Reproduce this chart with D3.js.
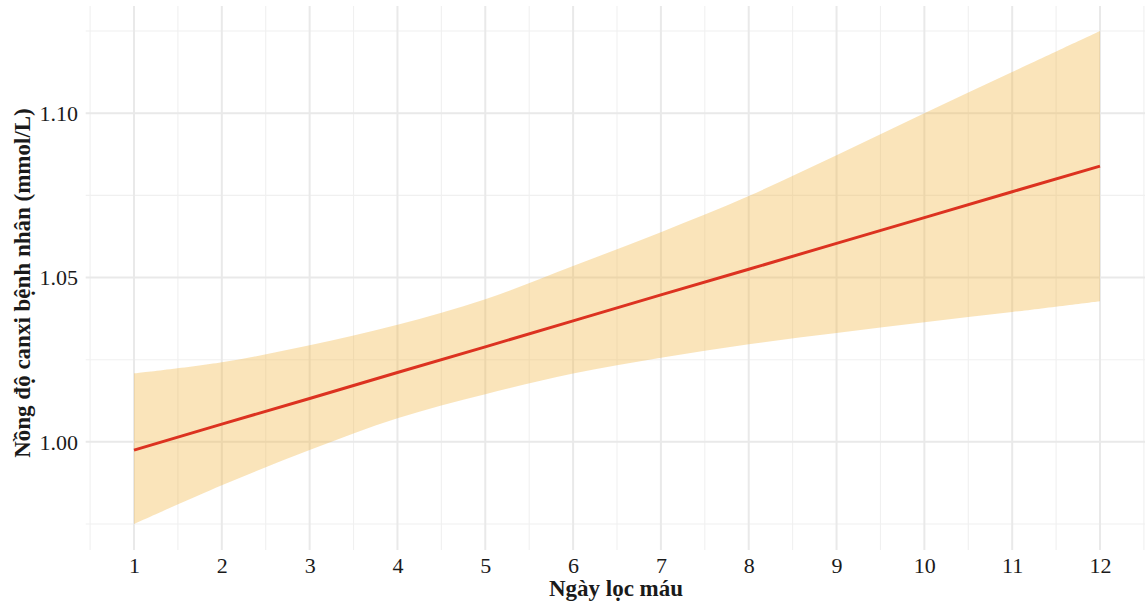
<!DOCTYPE html>
<html>
<head>
<meta charset="utf-8">
<script src="https://cdn.jsdelivr.net/npm/d3@7"></script>
<style>
  html, body { margin: 0; padding: 0; background: #ffffff; }
  svg { display: block; }
  text { font-family: "Liberation Serif", "Times New Roman", serif; fill: #1a1a1a; }
</style>
</head>
<body>
<svg id="chart" width="1145" height="605"></svg>
<script>
// Dialysis day
const days = [1, 2, 3, 4, 5, 6, 7, 8, 9, 10, 11, 12];
// Fitted calcium concentration (mmol/L)
const fitted = [0.9975, 1.0054, 1.0132, 1.0211, 1.0289, 1.0368, 1.0447, 1.0525, 1.0604, 1.0682, 1.0761, 1.0839];
// Confidence band
const upper = [1.0208, 1.0242, 1.0294, 1.0356, 1.0434, 1.0535, 1.0638, 1.0748, 1.0872, 1.1000, 1.1125, 1.1250];
const lower = [0.9750, 0.9868, 0.9975, 1.0072, 1.0145, 1.0208, 1.0256, 1.0297, 1.0331, 1.0364, 1.0395, 1.0428];
// Axis ticks
const xTicks = [1, 2, 3, 4, 5, 6, 7, 8, 9, 10, 11, 12];
const yTicks = [1.00, 1.05, 1.10];
const yMinor = [0.975, 1.025, 1.075, 1.125];
const xMinor = [0.5, 1.5, 2.5, 3.5, 4.5, 5.5, 6.5, 7.5, 8.5, 9.5, 10.5, 11.5, 12.5];

const svg = d3.select("#chart");
const panel = { left: 85.7, right: 1148.3, top: 6, bottom: 550 };

const x = d3.scaleLinear().domain([0.45, 12.55]).range([panel.left, panel.right]);
const y = d3.scaleLinear().domain([0.9671, 1.1326]).range([panel.bottom, panel.top]);

const g = svg.append("g");

// minor grid
g.selectAll("line.xminor").data(xMinor).join("line")
  .attr("x1", d => x(d)).attr("x2", d => x(d))
  .attr("y1", panel.top).attr("y2", panel.bottom)
  .attr("stroke", "#f0f0f0").attr("stroke-width", 1.1);
g.selectAll("line.yminor").data(yMinor).join("line")
  .attr("y1", d => y(d)).attr("y2", d => y(d))
  .attr("x1", panel.left).attr("x2", panel.right)
  .attr("stroke", "#f0f0f0").attr("stroke-width", 1.1);

// major grid
g.selectAll("line.xmajor").data(xTicks).join("line")
  .attr("x1", d => x(d)).attr("x2", d => x(d))
  .attr("y1", panel.top).attr("y2", panel.bottom)
  .attr("stroke", "#e9e9e9").attr("stroke-width", 2);
g.selectAll("line.ymajor").data(yTicks).join("line")
  .attr("y1", d => y(d)).attr("y2", d => y(d))
  .attr("x1", panel.left).attr("x2", panel.right)
  .attr("stroke", "#e9e9e9").attr("stroke-width", 2);

const rows = days.map((d, i) => ({ day: d, fit: fitted[i], lo: lower[i], hi: upper[i] }));

// confidence ribbon
const area = d3.area()
  .x(d => x(d.day))
  .y0(d => y(d.lo))
  .y1(d => y(d.hi))
  .curve(d3.curveCatmullRom.alpha(0.5));
g.append("path").datum(rows)
  .attr("d", area)
  .attr("fill", "#f0b540")
  .attr("fill-opacity", 0.36);

// fitted line
const line = d3.line().x(d => x(d.day)).y(d => y(d.fit));
g.append("path").datum(rows)
  .attr("d", line)
  .attr("fill", "none")
  .attr("stroke", "#dc3220")
  .attr("stroke-width", 3);

// x tick labels
const xAxis = d3.axisBottom(x).tickValues(xTicks).tickFormat(d3.format("d")).tickSize(0).tickPadding(0);
const xa = svg.append("g").attr("transform", `translate(0,${panel.bottom})`).call(xAxis);
xa.select(".domain").remove();
xa.selectAll("text")
  .attr("dy", null).attr("y", 23)
  .style("font-family", "'Liberation Serif', 'Times New Roman', serif")
  .style("font-size", "22px").attr("fill", "#1a1a1a");

// y tick labels
const yAxis = d3.axisLeft(y).tickValues(yTicks).tickFormat(d3.format(".2f")).tickSize(0).tickPadding(0);
const ya = svg.append("g").attr("transform", `translate(78,0)`).call(yAxis);
ya.select(".domain").remove();
ya.selectAll("text")
  .attr("x", 0).attr("dy", "0.34em")
  .style("font-family", "'Liberation Serif', 'Times New Roman', serif")
  .style("font-size", "22px").attr("fill", "#1a1a1a");

// axis titles
svg.append("text")
  .attr("x", 616).attr("y", 596)
  .attr("text-anchor", "middle")
  .style("font-size", "23px").style("font-weight", "bold")
  .text("Ngày lọc máu");

svg.append("text")
  .attr("transform", `translate(30,283) rotate(-90)`)
  .attr("text-anchor", "middle")
  .style("font-size", "23px").style("font-weight", "bold")
  .text("Nồng độ canxi bệnh nhân (mmol/L)");
</script>
</body>
</html>
